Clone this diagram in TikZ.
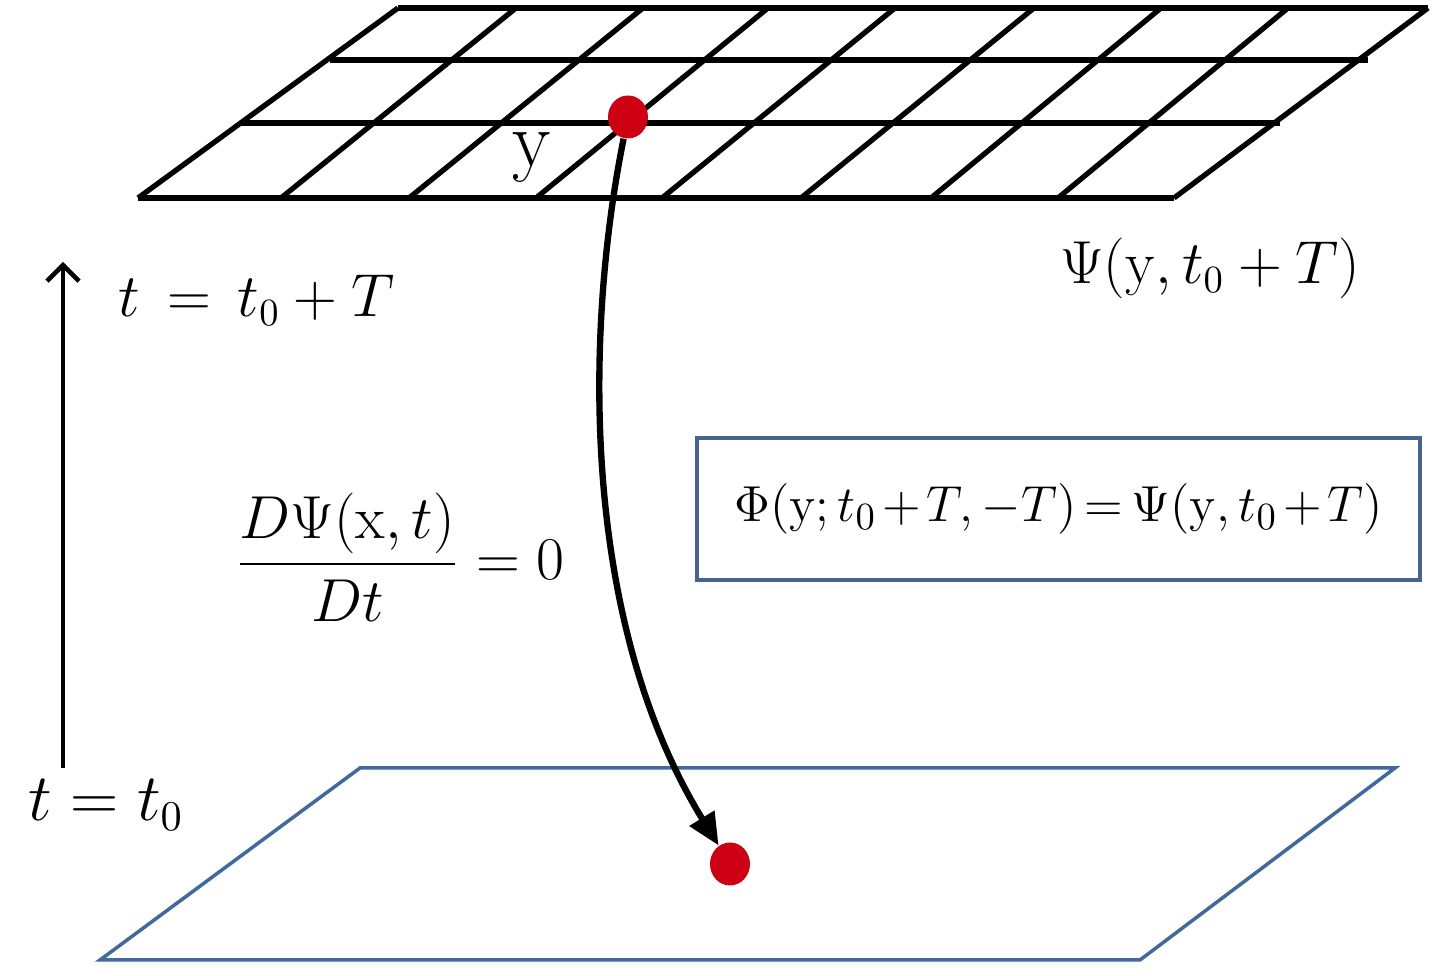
\documentclass[tikz,border=0pt]{standalone}
\usepackage{amsmath}
\usepackage{tikz}
\usetikzlibrary{arrows.meta,positioning,shapes.geometric}

\definecolor{planeblue}{RGB}{65,105,155}
\definecolor{boxblue}{RGB}{70,100,145}
\definecolor{dotred}{RGB}{205,0,20}

\tikzset{
  gridline/.style={line width=1.5pt},
  planeline/.style={draw=planeblue, line width=1pt, line join=miter},
  eqbox/.style={draw=boxblue, line width=1.1pt, minimum width=72.3mm, minimum height=14.2mm, inner sep=0pt,
    font=\fontsize{15}{18}\selectfont},
  lbl/.style={font=\fontsize{16}{19}\selectfont, inner sep=0pt},
  dot/.style={ellipse, fill=dotred, minimum width=4mm, minimum height=4.3mm, inner sep=0pt},
  traj/.style={line width=1.8pt, -{Triangle[length=3.2mm,width=2.8mm]}},
  timearrow/.style={line width=1.3pt, -{Straight Barb[length=1.6mm,width=3.2mm]}}
}

\begin{document}
\begin{tikzpicture}[x=0.1mm,y=-0.1mm]
\useasboundingbox (0,0) rectangle (1438,976);
% grid at t0+T
\foreach \y/\l/\r in {8/398/1428, 60/330/1368, 123/240/1280, 198/138/1174}
  \draw[gridline] (\l,\y) -- (\r,\y);
\foreach \b/\t in {138/398, 281/516, 409/643, 536/768, 662/895, 801/1034, 931/1161, 1058/1288, 1174/1428}
  \draw[gridline] (\b,198) -- (\t,8);
% plane at t0
\draw[planeline] (360,768) -- (1395,768) -- (1140,960) -- (100,960) -- cycle;
% labels
\node[eqbox] (flowmap) at (1058.5,509)
  {$\medmuskip=2mu \thickmuskip=3mu \Phi(\mathrm{y};t_0+T,-T)=\Psi(\mathrm{y},t_0+T)$};
\node[lbl] (psilbl) at (1210,268) {$\Psi(\mathrm{y},t_0+T)$};
\node[lbl] (advect) at (400,557) {$\dfrac{D\Psi(\mathrm{x},t)}{Dt}=0$};
\node[lbl, scale=1.3] (ylbl) at (532,157) {$\mathrm{y}$};
% time axis
\coordinate (tstart) at (63,768);
\coordinate (tend) at (63,262);
\draw[timearrow] (tstart) -- (tend);
\node[lbl, anchor=west] (tlate) at (118,300) {$t\,=\,t_0+T$};
\node[lbl, scale=1.1] (tearly) at (106,805) {$t=t_0$};
% trajectory
\node[dot] (ytop) at (628,117) {};
\node[dot] (ybot) at (730,864) {};
\draw[traj] (ytop) .. controls (585,330) and (580,620) .. (ybot);
\end{tikzpicture}
\end{document}
